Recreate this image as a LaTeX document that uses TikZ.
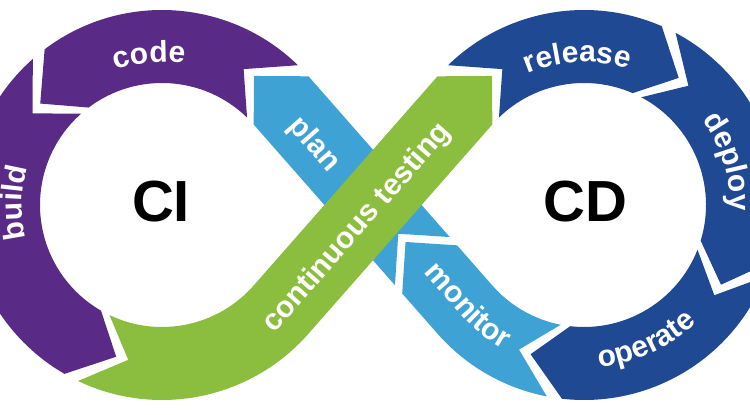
\documentclass[tikz,border=0pt]{standalone}
\usepackage{fontspec}
\setmainfont{Liberation Sans}
\usetikzlibrary{calc, decorations.text}
\definecolor{ciPurple}{HTML}{5A2B86}
\definecolor{cdBlue}{HTML}{1F4A93}
\definecolor{opsBlue}{HTML}{3EA3D4}
\definecolor{testGreen}{HTML}{8BBE3E}
\newcommand{\lblfont}{\fontsize{30}{30}\selectfont\bfseries}

\begin{document}
\begin{tikzpicture}[x=1pt, y=1pt,
  arclabel/.style={decorate, decoration={text along path, text align=center,
                   text color=white, text={|\lblfont|#1}}},
  bandtext/.style={text=white, font=\lblfont, inner sep=0pt},
  big/.style={font=\fontsize{58}{58}\selectfont\bfseries, inner sep=0pt}
]
  \useasboundingbox (0,0) rectangle (750,415);
  \clip (0,0) rectangle (750,415);
  \coordinate (L) at (162,210);
  \coordinate (R) at (584,210);

  % CI loop
  \fill[ciPurple] ($(L)+(45.8:195)$) arc[start angle=45.8, end angle=127, radius=195]
    -- ($(L)+(140.2:158.5)$) -- ($(L)+(127:122)$)
    arc[start angle=127, end angle=45.8, radius=122] -- ($(L)+(59:158.5)$) -- cycle;
  \fill[ciPurple] ($(L)+(131.5:195)$) arc[start angle=131.5, end angle=240, radius=195]
    -- ($(L)+(253.2:158.5)$) -- ($(L)+(240:122)$)
    arc[start angle=240, end angle=131.5, radius=122] -- ($(L)+(144.7:158.5)$) -- cycle;

  % CD loop
  \fill[cdBlue] ($(R)+(134.2:195)$) arc[start angle=134.2, end angle=66.5, radius=195]
    -- ($(R)+(53.3:158.5)$) -- ($(R)+(66.5:122)$)
    arc[start angle=66.5, end angle=134.2, radius=122] -- ($(R)+(121:158.5)$) -- cycle;
  \fill[cdBlue] ($(R)+(62:195)$) arc[start angle=62, end angle=-17, radius=195]
    -- ($(R)+(-30.2:158.5)$) -- ($(R)+(-17:122)$)
    arc[start angle=-17, end angle=62, radius=122] -- ($(R)+(48.8:158.5)$) -- cycle;
  \fill[cdBlue] ($(R)+(-21.5:195)$) arc[start angle=-21.5, end angle=-96.5, radius=195]
    -- ($(R)+(-109.7:158.5)$) -- ($(R)+(-96.5:122)$)
    arc[start angle=-96.5, end angle=-21.5, radius=122] -- ($(R)+(-34.7:158.5)$) -- cycle;

  % monitor and plan, under the green band
  \fill[opsBlue] ($(R)+(-101:195)$) arc[start angle=-101, end angle=-138.7, radius=195]
    -- ($(R)+(-138.7:195)+(131.3:53.5)$) -- ($(R)+(-138.7:158.5)+(131.3:90)$)
    -- ($(R)+(-138.7:122)+(131.3:53.5)$) -- ($(R)+(-138.7:122)$)
    arc[start angle=-138.7, end angle=-101, radius=122] -- ($(R)+(-114.2:158.5)$) -- cycle;
  \fill[opsBlue] ($(R)+(-138.7:195)+(131.3:64.5)$) -- ($(L)+(41.3:122)$)
    -- ($(L)+(54.5:158.5)$) -- ($(L)+(41.3:195)$)
    -- ($(R)+(-138.7:122)+(131.3:64.5)$) -- ($(R)+(-138.7:158.5)+(131.3:101)$) -- cycle;

  % continuous testing
  \fill[testGreen] ($(L)+(244.5:195)$) arc[start angle=244.5, end angle=318.7, radius=195]
    -- ($(R)+(138.7:122)$) -- ($(R)+(125.5:158.5)$) -- ($(R)+(138.7:195)$)
    -- ($(L)+(318.7:122)$) arc[start angle=318.7, end angle=244.5, radius=122]
    -- ($(L)+(257.7:158.5)$) -- cycle;

  % labels
  \path[arclabel=code] ($(L)+(135:143)$) arc[start angle=135, end angle=55, radius=143];
  \path[arclabel=build] ($(L)+(219:140)$) arc[start angle=219, end angle=139, radius=140];
  \path[arclabel=release] ($(R)+(132.6:143)$) arc[start angle=132.6, end angle=52.6, radius=143];
  \path[arclabel=deploy] ($(R)+(56.7:146)$) arc[start angle=56.7, end angle=-23.3, radius=146];
  \path[arclabel=operate] ($(R)+(-105.4:163)$) arc[start angle=-105.4, end angle=-25.4, radius=163];
  \path[arclabel=monitor] ($(R)+(221.3:165)+(131.3:70)$) -- ($(R)+(221.3:165)$)
    arc[start angle=221.3, end angle=246, radius=165];
  \node[bandtext, rotate=-48.7] (plan) at (314,270) {plan};
  \node[bandtext, rotate=48.7] (ct) at (357,187) {continuous testing};

  \node[big] (ci) at (161,213.5) {CI};
  \node[big] (cd) at (585.5,213.5) {CD};
\end{tikzpicture}
\end{document}
